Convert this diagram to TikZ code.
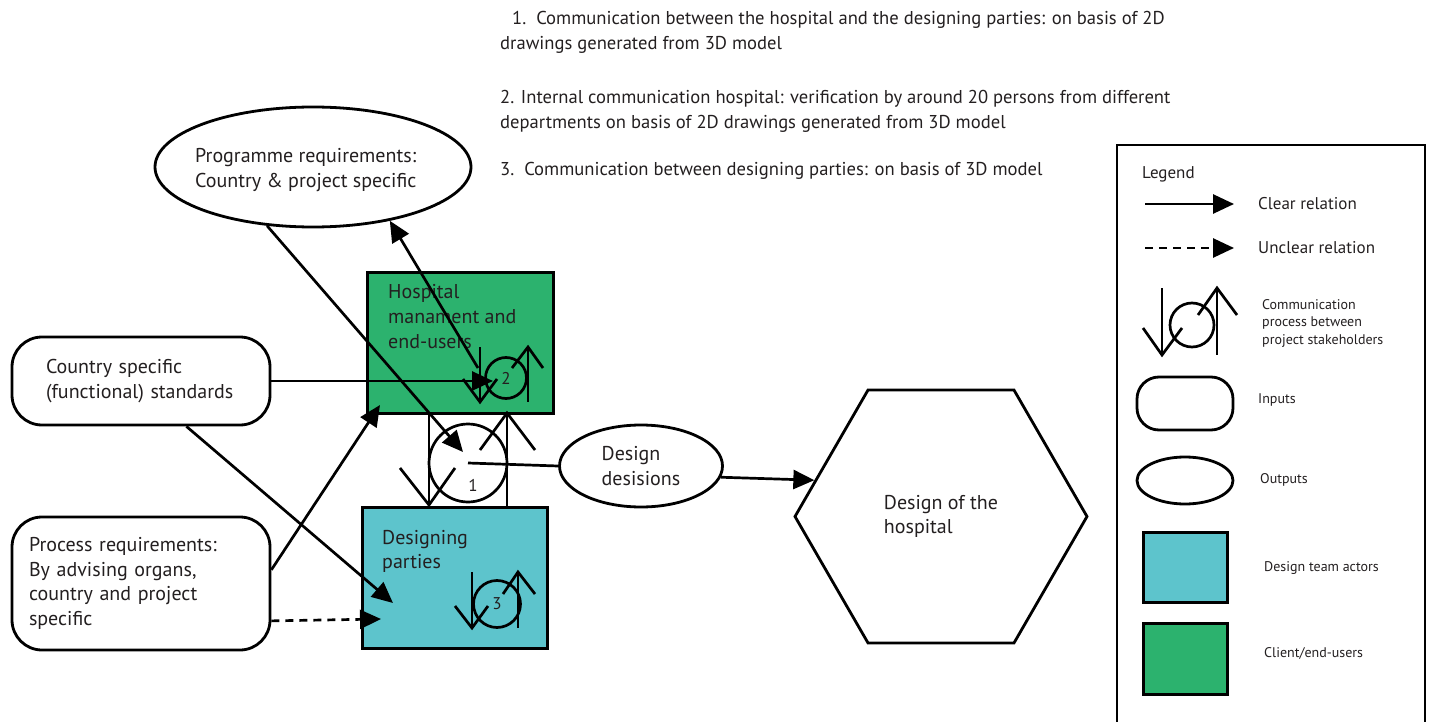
\documentclass[tikz,border=0pt]{standalone}
\usepackage{fontspec}
\setmainfont{PT Sans}
\usetikzlibrary{arrows.meta,shapes.geometric}
\definecolor{hospgreen}{RGB}{44,178,110}
\definecolor{designcyan}{RGB}{93,196,204}
\definecolor{ink}{RGB}{35,31,32}
\begin{document}
\begin{tikzpicture}[x=1pt,y=-1pt,
  every node/.style={text=ink},
  txt/.style={inner sep=0pt, align=left, font=\fontsize{18.6}{25.5}\selectfont},
  boxtxt/.style={inner sep=0pt, align=left, font=\fontsize{20}{24.5}\selectfont},
  smalltxt/.style={inner sep=0pt, align=left, font=\fontsize{14}{17.5}\selectfont},
  midtxt/.style={inner sep=0pt, align=left, font=\fontsize{17}{20}\selectfont},
  inputbox/.style={draw=black, fill=white, line width=2.8pt, rounded corners=30pt, inner sep=0pt, align=left, font=\fontsize{20}{24.5}\selectfont},
  outputell/.style={ellipse, draw=black, fill=white, line width=2.8pt, inner sep=0pt, align=left, font=\fontsize{20}{24.5}\selectfont},
  actor/.style={draw=black, line width=3pt, inner sep=0pt},
  commcirc/.style={circle, draw=black, line width=2.7pt, inner sep=0pt, font=\fontsize{17}{18}\selectfont},
  symline/.style={line width=2.7pt, line join=miter},
  arr/.style={line width=2.7pt, -{Triangle[length=21pt,width=19pt]}},
  unclear/.style={line width=2.7pt, dash pattern=on 8pt off 6pt, -{Triangle[length=21pt,width=19pt]}},
  plainline/.style={line width=2.7pt}
]
\useasboundingbox (0,0) rectangle (1432,722);

% ---------- top notes ----------
\node[txt, anchor=north west] (note1) at (500,11) {\hspace*{12pt}1.\ \ Communication between the hospital and the designing parties: on basis of 2D\\drawings generated from 3D model};
\node[txt, anchor=north west] (note2) at (500,90) {2. Internal communication hospital: verification by around 20 persons from different\\departments on basis of 2D drawings generated from 3D model};
\node[txt, anchor=north west] (note3) at (500,162) {3.\ \ Communication between designing parties: on basis of 3D model};

% ---------- main shapes ----------
\node[outputell, minimum width=316pt, minimum height=120pt] (prog) at (313,167) {};
\node[boxtxt, anchor=west] (progtext) at (195,170) {Programme requirements:\\Country \& project specific};
\node[actor, fill=hospgreen, minimum width=186pt, minimum height=141pt] (hosp) at (460,342.5) {};
\node[actor, fill=designcyan, minimum width=185pt, minimum height=141pt] (design) at (454.5,577.5) {};
\node[boxtxt, anchor=north west, font=\fontsize{20}{25}\selectfont] (hosptext) at (388,284) {Hospital\\manament and\\end-users};
\node[boxtxt, anchor=north west, font=\fontsize{20}{24}\selectfont] (designtext) at (382,530) {Designing\\parties};
\node[inputbox, minimum width=258pt, minimum height=88pt, text width=190pt] (country) at (141,381) {Country specific\\(functional) standards};
\node[inputbox, minimum width=258pt, minimum height=133pt, text width=224pt] (process) at (141,583.5) {Process requirements:\\By advising organs,\\country and project\\specific};
\node[outputell, minimum width=163pt, minimum height=82pt] (dec) at (641,466) {Design\\desisions};
\node[regular polygon, regular polygon sides=6, draw=black, line width=2.8pt, minimum size=292pt, inner sep=0pt, align=left, font=\fontsize{20}{24}\selectfont] (hex) at (941,516.5) {Design of the\\hospital};

% ---------- communication symbols ----------
% symbol 1
\node[commcirc, minimum size=78pt] (c1) at (468,463) {};
\node[inner sep=0pt, font=\fontsize{17}{18}\selectfont] (n1) at (473,485) {1};
\draw[symline] (429,413) -- (429,505);
\draw[symline] (400,468) -- (429,505) -- (455,468);
\draw[symline] (507,413) -- (507,507);
\draw[symline] (480,450) -- (507,413) -- (535,450);
% symbol 2
\node[commcirc, minimum size=41pt] (c2) at (506,378) {2};
\draw[symline] (480,347) -- (480,402);
\draw[symline] (463,379) -- (480,402) -- (497,379);
\draw[symline] (528,347) -- (528,402);
\draw[symline] (512,368) -- (528,347) -- (543,368);
% symbol 3
\node[commcirc, minimum size=47pt] (c3) at (497,604) {3};
\draw[symline] (472,572) -- (472,628);
\draw[symline] (455,606) -- (472,628) -- (488,606);
\draw[symline] (518,572) -- (518,628);
\draw[symline] (503,594) -- (518,572) -- (535,594);

% ---------- connectors ----------
\coordinate (tipc1) at (463,452);
\coordinate (c2s) at (478,368);
\coordinate (tipc2) at (493,381);
\coordinate (tipd1) at (393,603);
\coordinate (tiph) at (380,405);
\coordinate (tipd2) at (381,619);
\draw[arr] (prog.232) -- (tipc1);
\draw[arr] (c2s) -- (prog.325);
\draw[arr] (country.east) -- (tipc2);
\draw[arr] (country.315) -- (tipd1);
\draw[arr] (process.6) -- (tiph);
\draw[unclear] (process.344) -- (tipd2);
\draw[plainline] (c1.center) -- (dec.west);
\draw[arr] (dec.352) -- (hex.164.5);

% ---------- legend ----------
\draw[line width=2.7pt] (1117,722) -- (1117,145) -- (1425,145) -- (1425,722);
\node[midtxt, anchor=west] (legtitle) at (1142,174) {Legend};
\coordinate (lc1) at (1145,204);
\coordinate (lc2) at (1234,204);
\draw[arr] (lc1) -- (lc2);
\node[midtxt, anchor=west] (lclear) at (1258,204) {Clear relation};
\coordinate (lu1) at (1145,248);
\coordinate (lu2) at (1234,248);
\draw[unclear] (lu1) -- (lu2);
\node[midtxt, anchor=west] (lunclear) at (1258,248) {Unclear relation};
\node[commcirc, minimum size=44pt] (lcirc) at (1192,325) {};
\draw[symline] (1162,288) -- (1162,355);
\draw[symline] (1143,328) -- (1162,355) -- (1182,328);
\draw[symline] (1217,288) -- (1217,355);
\draw[symline] (1198,315) -- (1217,288) -- (1237,315);
\node[smalltxt, anchor=west] (lcomm) at (1262,323) {Communication\\process between\\project stakeholders};
\node[inputbox, minimum width=96pt, minimum height=53pt, rounded corners=22pt] (linput) at (1185,403.5) {};
\node[smalltxt, anchor=west] (linputt) at (1258,400) {Inputs};
\node[outputell, minimum width=96pt, minimum height=47pt] (loutput) at (1185,480.5) {};
\node[smalltxt, anchor=west] (loutputt) at (1260,480) {Outputs};
\node[actor, fill=designcyan, minimum width=84pt, minimum height=70pt] (ldesign) at (1185,567) {};
\node[smalltxt, anchor=west] (ldesignt) at (1264,568) {Design team actors};
\node[actor, fill=hospgreen, minimum width=84pt, minimum height=71pt] (lclient) at (1185,658.5) {};
\node[smalltxt, anchor=west] (lclientt) at (1264,653) {Client/end-users};
\end{tikzpicture}
\end{document}
